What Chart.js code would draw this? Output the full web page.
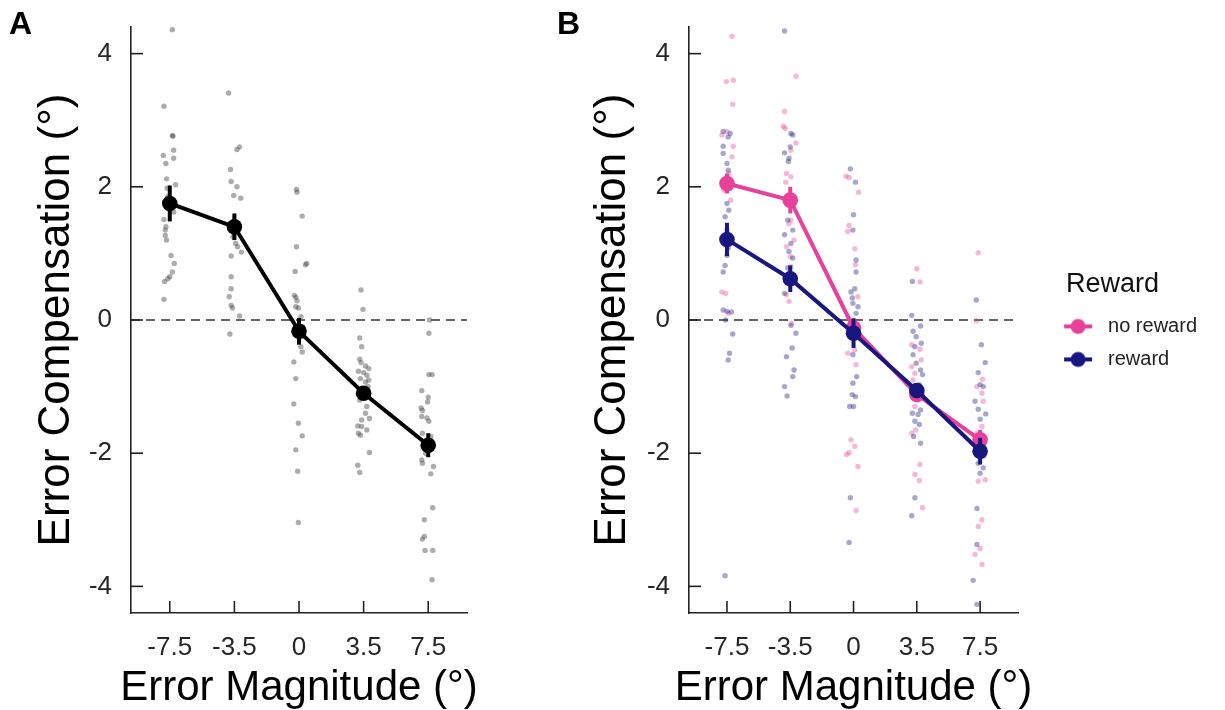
<!DOCTYPE html>
<html><head><meta charset="utf-8">
<script src="https://cdn.jsdelivr.net/npm/chart.js@4.4.1/dist/chart.umd.min.js"></script>
<style>
html,body{margin:0;padding:0;background:#fff;width:1225px;height:710px;overflow:hidden;font-family:"Liberation Sans",Arial,sans-serif}
#cA{position:absolute;left:0;top:0}
#cB{position:absolute;left:545px;top:0}
.plab{position:absolute;font-weight:bold;font-size:32px;line-height:32px;color:#000;font-family:"Liberation Sans",Arial,sans-serif}
</style></head><body>
<canvas id="cA" width="545" height="710"></canvas>
<canvas id="cB" width="680" height="710"></canvas>
<div class="plab" style="left:9px;top:7px">A</div>
<div class="plab" style="left:557px;top:7px">B</div>
<script>
// ---------- data ----------
const categories = ['-7.5', '-3.5', '0', '3.5', '7.5'];
const yTickValues = [-4, -2, 0, 2, 4];
const xTitle = 'Error Magnitude (°)';
const yTitle = 'Error Compensation (°)';
const legendTitle = 'Reward';
const legendLabels = ['no reward', 'reward'];

// Panel A: group means and standard errors
const meanA = [1.75, 1.40, -0.17, -1.10, -1.88];
const seA   = [0.27, 0.20, 0.20, 0.10, 0.18];
// Panel B: group means and standard errors
const meanNoReward = [2.05, 1.80, -0.12, -1.12, -1.80];
const seNoReward   = [0.15, 0.20, 0.15, 0.10, 0.15];
const meanReward   = [1.21, 0.62, -0.20, -1.06, -1.97];
const seReward     = [0.25, 0.20, 0.22, 0.10, 0.20];

// Panel A: individual participants (values) and horizontal jitter (category units)
const indivA = [
  [4.36,3.21,2.77,2.76,2.47,2.55,2.43,2.35,2.12,2.03,1.98,1.85,1.62,1.51,1.40,1.35,1.27,1.20,0.97,0.85,0.72,0.65,0.62,0.58,0.31],
  [3.41,2.60,2.56,2.26,2.08,2.00,1.87,1.83,1.45,1.30,1.25,1.15,1.10,1.02,0.96,0.65,0.47,0.35,0.22,0.18,0.06,-0.21],
  [1.96,1.92,1.56,1.10,0.85,0.83,0.73,0.37,0.34,0.29,0.20,0.18,0.05,-0.10,-0.25,-0.40,-0.48,-0.63,-0.88,-1.26,-1.55,-1.74,-1.95,-2.27,-3.04],
  [0.45,0.16,-0.27,-0.40,-0.59,-0.64,-0.69,-0.73,-0.77,-0.79,-0.83,-0.88,-0.90,-0.93,-1.00,-1.20,-1.30,-1.40,-1.48,-1.50,-1.59,-1.60,-1.65,-1.70,-1.73,-1.99,-2.18,-2.29],
  [0.00,-0.20,-0.82,-0.82,-1.06,-1.16,-1.23,-1.32,-1.36,-1.45,-1.47,-1.52,-1.70,-1.75,-1.95,-2.00,-2.10,-2.15,-2.20,-2.31,-2.82,-3.00,-3.25,-3.29,-3.46,-3.46,-3.90]
];
const jitterA = [
  [0.04,-0.09,0.04,0.05,-0.10,0.06,0.06,-0.06,-0.05,0.09,-0.04,-0.03,0.06,-0.09,-0.06,-0.07,-0.07,-0.05,0.02,0.07,0.04,0.00,-0.03,-0.08,-0.09],
  [-0.09,0.08,0.04,-0.06,-0.05,0.04,-0.01,0.10,0.03,0.00,-0.02,0.02,0.05,0.11,-0.05,-0.05,-0.05,-0.08,-0.05,-0.03,0.08,-0.07],
  [-0.04,-0.03,0.05,-0.04,0.12,0.10,-0.06,-0.07,-0.05,-0.03,-0.05,-0.01,0.03,0.06,0.04,0.03,0.05,-0.08,-0.05,-0.08,-0.01,0.05,-0.05,-0.02,-0.01],
  [-0.04,-0.01,-0.06,-0.03,-0.06,-0.04,0.03,0.08,-0.08,0.00,0.05,-0.05,0.08,0.03,0.07,-0.06,0.05,0.03,0.09,-0.03,-0.09,-0.03,0.05,-0.08,-0.05,0.09,-0.09,-0.06],
  [0.02,0.01,0.01,0.06,-0.10,0.00,-0.01,-0.11,-0.09,-0.10,-0.02,0.01,-0.09,0.04,0.03,-0.04,-0.10,-0.09,0.08,0.04,0.07,-0.06,-0.06,-0.09,-0.05,0.07,0.06]
];

// Panel B: individual participants, no reward
const indivNoReward = [
  [4.26,3.58,3.60,3.24,2.83,2.78,2.61,2.45,2.20,2.10,1.95,1.80,0.42,0.40,0.10],
  [3.66,3.13,2.91,2.88,2.66,2.55,2.20,2.15,2.07,1.50,1.45,1.20,1.10,0.95,0.80,0.38,0.28,-0.05],
  [2.16,2.14,1.92,1.42,1.33,1.07,0.83,0.35,-0.45,-0.50,-0.67,-1.80,-1.90,-1.99,-2.02,-2.20,-2.86],
  [0.77,0.57,-0.37,-0.44,-0.60,-0.70,-0.80,-0.90,-1.30,-1.65,-1.70,-2.17,-2.32,-2.41,-2.82],
  [1.01,-0.01,-0.89,-1.00,-1.10,-1.22,-1.60,-1.70,-1.80,-2.05,-2.40,-2.42,-3.00,-3.10,-3.43,-3.52,-3.67]
];
const jitterNoReward = [
  [0.08,-0.01,0.10,0.09,0.00,-0.08,0.10,0.08,0.03,-0.04,-0.05,0.06,-0.08,-0.02,0.02],
  [0.09,-0.09,-0.11,-0.08,0.09,0.01,-0.06,0.01,-0.07,0.01,-0.02,0.06,-0.06,0.00,0.01,-0.06,-0.02,0.02],
  [-0.12,-0.07,0.08,-0.07,-0.09,0.02,0.03,0.07,0.02,-0.09,0.04,-0.04,0.02,-0.07,-0.11,0.07,0.04],
  [0.00,0.05,-0.08,0.05,0.07,-0.08,-0.03,-0.06,-0.03,-0.02,-0.08,0.05,-0.03,0.04,0.09],
  [-0.03,-0.06,0.04,-0.05,0.03,0.05,0.03,-0.05,0.05,0.06,0.08,-0.03,0.03,-0.03,0.00,-0.08,0.03]
];
// Panel B: individual participants, reward
const indivReward = [
  [2.83,2.80,2.75,2.61,2.50,2.35,2.25,1.98,1.75,1.65,1.55,1.35,1.08,0.97,0.82,0.72,0.15,0.13,0.12,0.00,-0.21,-0.50,-0.60,-3.84],
  [4.34,2.80,2.78,2.60,2.51,2.43,2.38,1.50,1.35,1.28,1.15,1.03,0.93,0.78,0.40,-0.08,-0.20,-0.42,-0.55,-0.75,-0.85,-1.00,-1.14],
  [2.27,2.07,1.58,1.35,0.90,0.72,0.47,0.42,0.33,0.25,0.20,0.10,-0.52,-0.85,-0.95,-1.12,-1.15,-1.30,-1.30,-2.67,-3.34],
  [0.58,0.07,-0.09,-0.17,-0.25,-0.35,-0.40,-0.52,-0.65,-0.75,-0.82,-0.97,-1.35,-1.40,-1.42,-1.52,-1.57,-1.75,-1.85,-2.67,-2.94],
  [0.30,-0.37,-0.64,-0.79,-0.97,-1.00,-1.22,-1.34,-1.41,-1.49,-2.15,-2.22,-2.30,-2.83,-3.37,-3.91,-4.27]
];
const jitterReward = [
  [-0.06,0.05,0.02,-0.06,-0.06,0.00,0.02,0.05,0.00,0.03,-0.03,0.00,0.02,0.00,-0.03,-0.06,-0.06,0.00,0.07,-0.02,0.09,0.04,0.02,-0.03],
  [-0.09,0.01,0.04,0.00,-0.09,-0.02,-0.03,-0.04,0.04,-0.09,0.01,-0.02,0.04,-0.04,-0.09,0.01,0.09,0.03,-0.06,0.06,0.04,-0.09,-0.05],
  [-0.05,0.03,0.00,-0.01,0.04,0.04,0.02,-0.04,-0.02,-0.01,0.07,0.04,-0.01,0.05,-0.01,-0.02,0.03,-0.06,0.00,-0.05,-0.07],
  [-0.07,-0.08,0.06,-0.06,-0.01,0.07,-0.03,-0.06,-0.01,0.06,0.09,0.04,0.06,-0.07,0.02,-0.03,0.04,-0.05,0.06,-0.03,-0.08],
  [-0.06,0.02,0.08,-0.03,0.00,0.05,-0.08,-0.03,0.09,0.00,-0.03,0.05,0.00,-0.05,-0.05,-0.11,-0.05]
];

// ---------- styles ----------
const FONT = "'Liberation Sans', Arial, Helvetica, sans-serif";
Chart.defaults.font.family = FONT;
const C_BLACK = '#000000';
const C_PINK = '#E8419B';
const C_NAVY = '#17177F';
const AXIS_COL = '#222';

function toPoints(vals, jit) {
  const out = [];
  vals.forEach((arr, c) => arr.forEach((v, i) => out.push({x: c + jit[c][i], y: v})));
  return out;
}
function toMeans(m) { return m.map((v, i) => ({x: i, y: v})); }

const decor = {
  id: 'decor',
  beforeDatasetsDraw(chart) {
    const {ctx, chartArea, scales} = chart;
    const py = scales.y.getPixelForValue(0);
    ctx.save();
    ctx.setLineDash([9, 6]);
    ctx.strokeStyle = '#333';
    ctx.lineWidth = 1.6;
    ctx.beginPath();
    ctx.moveTo(chartArea.left, py);
    ctx.lineTo(chartArea.right, py);
    ctx.stroke();
    ctx.restore();
  },
  afterDatasetDraw(chart, args) {
    const ds = chart.data.datasets[args.index];
    if (!ds.errors) return;
    const {ctx, scales} = chart;
    ctx.save();
    ctx.strokeStyle = ds.borderColor;
    ctx.lineWidth = 4;
    ds.data.forEach((p, i) => {
      const px = scales.x.getPixelForValue(p.x);
      ctx.beginPath();
      ctx.moveTo(px, scales.y.getPixelForValue(p.y - ds.errors[i]));
      ctx.lineTo(px, scales.y.getPixelForValue(p.y + ds.errors[i]));
      ctx.stroke();
    });
    ctx.restore();
  },
  afterDraw(chart) {
    const {ctx, chartArea, scales} = chart;
    ctx.save();
    ctx.strokeStyle = AXIS_COL;
    ctx.lineWidth = 1.6;
    scales.y.ticks.forEach(t => {
      const py = scales.y.getPixelForValue(t.value);
      ctx.beginPath(); ctx.moveTo(chartArea.left, py); ctx.lineTo(chartArea.left + 12, py); ctx.stroke();
    });
    scales.x.ticks.forEach(t => {
      const px = scales.x.getPixelForValue(t.value);
      ctx.beginPath(); ctx.moveTo(px, chartArea.bottom); ctx.lineTo(px, chartArea.bottom - 12); ctx.stroke();
    });
    // x axis title (drawn without width squeezing)
    ctx.fillStyle = '#000';
    ctx.font = '42px ' + FONT;
    ctx.textAlign = 'center';
    ctx.textBaseline = 'alphabetic';
    ctx.fillText(xTitle, (chartArea.left + chartArea.right) / 2, chartArea.bottom + 87);
    ctx.restore();
  }
};

function scalesFor(yAxisWidth, yTitlePad) {
  return {
    x: {
      type: 'linear', min: -0.6, max: 4.6,
      afterBuildTicks: s => { s.ticks = categories.map((c, i) => ({value: i})); },
      afterFit: s => { s.height = 97; s.paddingLeft = 0; s.paddingRight = 0; },
      ticks: { callback: (v) => categories[v], font: {size: 26}, color: '#262626', padding: 19, maxRotation: 0, autoSkip: false },
      grid: { display: true, drawOnChartArea: false, drawTicks: false },
      border: { display: true, color: AXIS_COL, width: 1.6 },
      title: { display: false }
    },
    y: {
      type: 'linear', min: -4.4, max: 4.4,
      afterBuildTicks: s => { s.ticks = yTickValues.map(v => ({value: v})); },
      afterFit: s => { s.width = yAxisWidth; s.paddingTop = 0; s.paddingBottom = 0; },
      ticks: { callback: v => String(v), font: {size: 26}, color: '#262626', padding: 19 },
      grid: { display: true, drawOnChartArea: false, drawTicks: false },
      border: { display: true, color: AXIS_COL, width: 1.6 },
      title: { display: true, text: yTitle, font: {size: 44, lineHeight: 1}, color: '#000', padding: {top: yTitlePad, bottom: 0} }
    }
  };
}

const pointStyleA = { pointRadius: 2.7, pointBorderWidth: 0, pointHoverRadius: 2.7 };

new Chart(document.getElementById('cA'), {
  type: 'scatter',
  data: { datasets: [
    { type: 'line', label: 'mean', data: toMeans(meanA), errors: seA, borderColor: C_BLACK, backgroundColor: C_BLACK,
      borderWidth: 4, pointRadius: 7.8, pointBorderWidth: 0, pointBackgroundColor: C_BLACK, tension: 0, order: 1 },
    { label: 'participants', data: toPoints(indivA, jitterA), backgroundColor: 'rgba(70,70,70,0.45)', ...pointStyleA, order: 2 }
  ]},
  options: {
    responsive: false, animation: false, events: [], devicePixelRatio: 1,
    layout: { padding: { left: 0, right: 78, top: 27, bottom: 0 } },
    plugins: { legend: { display: false }, tooltip: { enabled: false } },
    scales: scalesFor(131, 35)
  },
  plugins: [decor]
});

function legendMarker(color) {
  const c = document.createElement('canvas');
  c.width = 67; c.height = 20;
  const g = c.getContext('2d');
  const cx = 47;
  g.strokeStyle = color; g.lineWidth = 4;
  g.beginPath(); g.moveTo(cx - 14, 10); g.lineTo(cx + 14, 10); g.stroke();
  g.fillStyle = color;
  g.beginPath(); g.arc(cx, 10, 7.5, 0, Math.PI * 2); g.fill();
  return c;
}
const legendColors = [C_PINK, C_NAVY];
const legendMarkers = legendColors.map(legendMarker);

new Chart(document.getElementById('cB'), {
  type: 'scatter',
  data: { datasets: [
    { type: 'line', label: legendLabels[1], data: toMeans(meanReward), errors: seReward, borderColor: C_NAVY, backgroundColor: C_NAVY,
      borderWidth: 4, pointRadius: 7.8, pointBorderWidth: 0, pointBackgroundColor: C_NAVY, tension: 0, order: 1 },
    { type: 'line', label: legendLabels[0], data: toMeans(meanNoReward), errors: seNoReward, borderColor: C_PINK, backgroundColor: C_PINK,
      borderWidth: 4, pointRadius: 7.8, pointBorderWidth: 0, pointBackgroundColor: C_PINK, tension: 0, order: 2 },
    { label: 'reward participants', data: toPoints(indivReward, jitterReward), backgroundColor: 'rgba(23,23,127,0.38)', ...pointStyleA, order: 3 },
    { label: 'no reward participants', data: toPoints(indivNoReward, jitterNoReward), backgroundColor: 'rgba(232,65,155,0.38)', ...pointStyleA, order: 4 }
  ]},
  options: {
    responsive: false, animation: false, events: [], devicePixelRatio: 1,
    layout: { padding: { left: 0, right: 18, top: 27, bottom: 0 } },
    plugins: {
      tooltip: { enabled: false },
      legend: {
        display: true, position: 'right', align: 'start', maxWidth: 260,
        title: { display: true, text: legendTitle, color: '#111', position: 'center', font: {size: 27, lineHeight: 1.2}, padding: {top: 244, bottom: 0} },
        labels: {
          usePointStyle: true, pointStyleWidth: 67, boxHeight: 20, padding: 13, color: '#222', font: {size: 20},
          generateLabels: () => legendLabels.map((t, i) => ({ text: t, pointStyle: legendMarkers[i], fillStyle: legendColors[i],
            strokeStyle: legendColors[i], lineWidth: 0, hidden: false, fontColor: '#222' }))
        }
      }
    },
    scales: scalesFor(144, 46)
  },
  plugins: [decor]
});
</script>
</body></html>
